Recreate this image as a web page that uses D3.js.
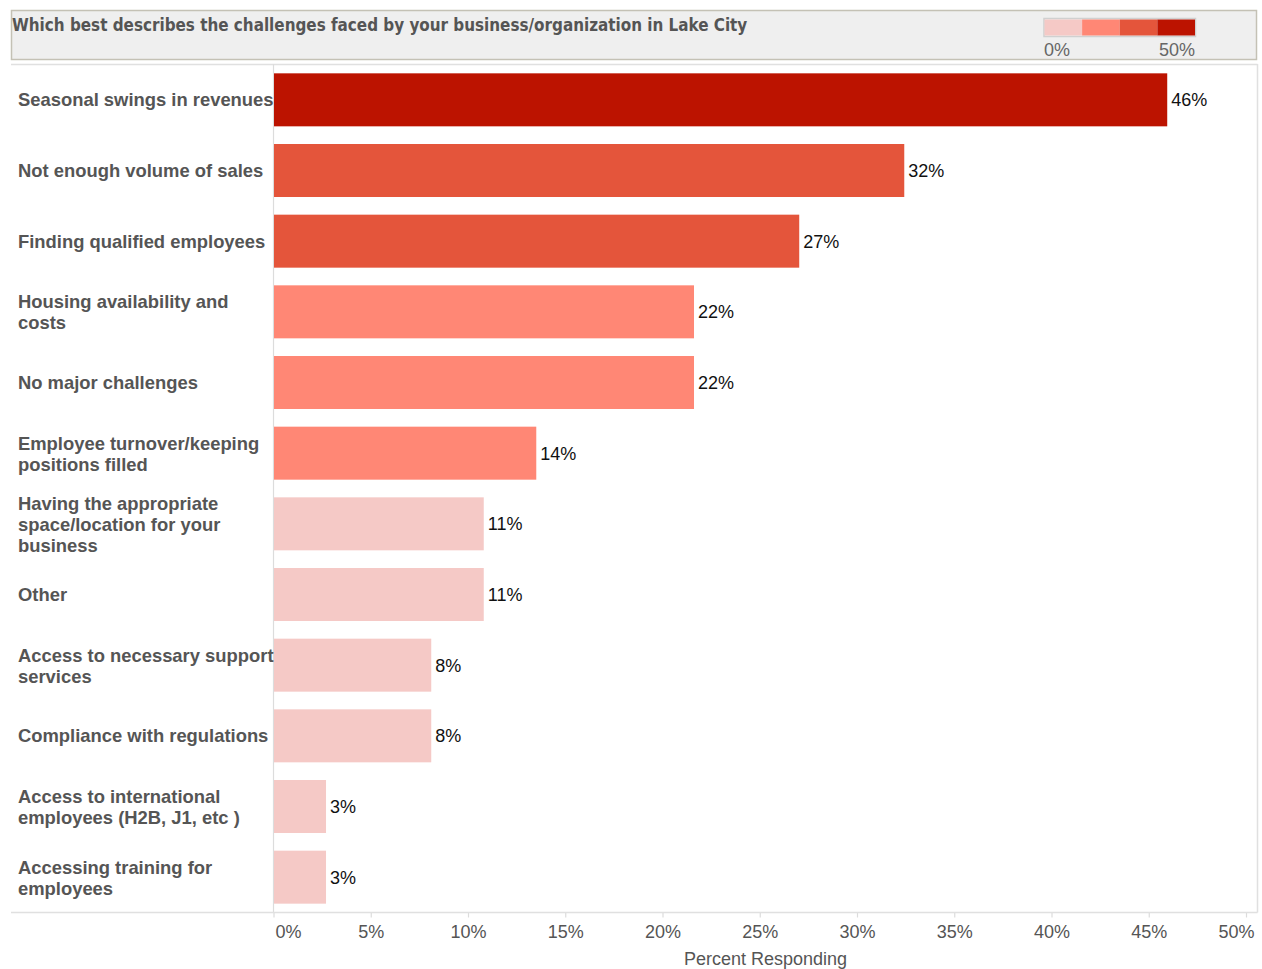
<!DOCTYPE html>
<html>
<head>
<meta charset="utf-8">
<script src="https://cdn.jsdelivr.net/npm/d3@7"></script>
<style>
  html, body { margin: 0; padding: 0; background: #fff; }
  svg { display: block; }
</style>
</head>
<body>
<svg id="chart" width="1262" height="969"></svg>
<script>
// ---- Data ----
const titleText = "Which best describes the challenges faced by your business/organization in Lake City";
const categories = [
  ["Seasonal swings in revenues"],
  ["Not enough volume of sales"],
  ["Finding qualified employees"],
  ["Housing availability and", "costs"],
  ["No major challenges"],
  ["Employee turnover/keeping", "positions filled"],
  ["Having the appropriate", "space/location for your", "business"],
  ["Other"],
  ["Access to necessary support", "services"],
  ["Compliance with regulations"],
  ["Access to international", "employees (H2B, J1, etc )"],
  ["Accessing training for", "employees"]
];
const values = [0.4595, 0.3243, 0.2703, 0.2162, 0.2162, 0.1351, 0.1081, 0.1081, 0.0811, 0.0811, 0.0270, 0.0270];
const xTicks = [0, 0.05, 0.10, 0.15, 0.20, 0.25, 0.30, 0.35, 0.40, 0.45, 0.50];
const colorSteps = [0.125, 0.25, 0.375];
const colorRange = ["#F5C9C6", "#FF8775", "#E4553B", "#BC1300"];
const legendLabels = ["0%", "50%"];
const axisTitle = "Percent Responding";

const svg = d3.select("#chart");

const fontSans = "'Liberation Sans', Arial, sans-serif";

// ---- Title box ----
svg.append("rect")
  .attr("x", 11.5).attr("y", 10.5).attr("width", 1245).attr("height", 49)
  .attr("fill", "#efefef").attr("stroke", "#c4c1b5").attr("stroke-width", 1.5);

const title = svg.append("text")
  .attr("x", 12).attr("y", 31)
  .attr("font-family", "'DejaVu Sans Condensed', 'DejaVu Sans', sans-serif")
  .attr("font-weight", "bold")
  .attr("font-size", 16)
  .attr("fill", "#555")
  .text(titleText);
const tl = title.node().getComputedTextLength();
title.attr("font-size", 16 * 736 / tl);

// ---- Legend ----
const color = d3.scaleThreshold().domain(colorSteps).range(colorRange);
const legX = d3.scaleLinear().domain([0, 0.5]).range([1044.5, 1195]);
const legendSegs = [0].concat(colorSteps);
svg.append("rect")
  .attr("x", 1044).attr("y", 18.5).attr("width", 151.5).attr("height", 18)
  .attr("fill", "none").attr("stroke", "#d0d0d0").attr("stroke-width", 1.5);
svg.selectAll(".leg").data(legendSegs).enter().append("rect")
  .attr("x", d => legX(d))
  .attr("y", 19.5)
  .attr("width", (d, i) => legX(i < colorSteps.length ? colorSteps[i] : 0.5) - legX(d))
  .attr("height", 16)
  .attr("fill", d => color(d));
svg.append("text")
  .attr("x", 1044).attr("y", 56)
  .attr("font-family", fontSans).attr("font-size", 18).attr("fill", "#666")
  .text(legendLabels[0]);
svg.append("text")
  .attr("x", 1195).attr("y", 56).attr("text-anchor", "end")
  .attr("font-family", fontSans).attr("font-size", 18).attr("fill", "#666")
  .text(legendLabels[1]);

// ---- Scales ----
const x = d3.scaleLinear().domain([0, 0.5]).range([273.5, 1246]);
const y = d3.scaleBand().domain(d3.range(categories.length)).range([64.5, 912.5])
  .paddingInner(0.25).paddingOuter(0.125);

// ---- Frame lines ----
svg.append("line").attr("x1", 11).attr("x2", 1257.5).attr("y1", 64.5).attr("y2", 64.5)
  .attr("stroke", "#e0e0e0").attr("stroke-width", 1.5);
svg.append("line").attr("x1", 1257.5).attr("x2", 1257.5).attr("y1", 64).attr("y2", 912.5)
  .attr("stroke", "#e0e0e0").attr("stroke-width", 1.5);
svg.append("line").attr("x1", 273.5).attr("x2", 273.5).attr("y1", 64).attr("y2", 912.5)
  .attr("stroke", "#dcdcdc").attr("stroke-width", 1.2);

// ---- Bars ----
svg.selectAll(".bar").data(values).enter().append("rect")
  .attr("x", x(0) + 0.5)
  .attr("y", (d, i) => y(i))
  .attr("width", d => x(d) - x(0) - 0.5)
  .attr("height", y.bandwidth())
  .attr("fill", d => color(d));

// ---- Value labels ----
svg.selectAll(".val").data(values).enter().append("text")
  .attr("x", d => x(d) + 4)
  .attr("y", (d, i) => y(i) + y.bandwidth() / 2 + 6.5)
  .attr("font-family", fontSans).attr("font-size", 18).attr("fill", "#111")
  .text(d => Math.round(d * 100) + "%");

// ---- Category labels ----
const lineH = 21.3;
categories.forEach((lines, i) => {
  const cy = y(i) + y.bandwidth() / 2 + 6.5;
  const n = lines.length;
  const t = svg.append("text")
    .attr("font-family", fontSans).attr("font-weight", "bold")
    .attr("font-size", 18.4).attr("fill", "#555");
  lines.forEach((ln, j) => {
    t.append("tspan").attr("x", 18)
      .attr("y", cy + (j - (n - 1) / 2) * lineH + (n > 1 ? 0.5 : 0))
      .text(ln);
  });
});

// ---- X axis ----
const axisG = svg.append("g").attr("transform", "translate(0,912.5)");
const xAxis = d3.axisBottom(x).tickValues(xTicks).tickSize(5).tickSizeOuter(0)
  .tickFormat(d => Math.round(d * 100) + "%");
axisG.call(xAxis);
axisG.select(".domain").remove();
axisG.append("line").attr("x1", 11).attr("x2", 1257.5).attr("y1", 0).attr("y2", 0)
  .attr("stroke", "#e0e0e0").attr("stroke-width", 1.5);
axisG.selectAll(".tick line").attr("stroke", "#dcdcdc").attr("stroke-width", 1.2);
axisG.selectAll(".tick text")
  .attr("font-family", fontSans).attr("font-size", 18).attr("fill", "#555")
  .attr("y", 0).attr("dy", 0)
  .attr("transform", "translate(0,25.5)");
axisG.selectAll(".tick").filter(d => d === 0).select("text")
  .attr("text-anchor", "start").attr("x", 1.5);
axisG.selectAll(".tick").filter(d => d === 0.5).select("text")
  .attr("text-anchor", "end").attr("x", 8);

svg.append("text")
  .attr("x", 765.5).attr("y", 964.5).attr("text-anchor", "middle")
  .attr("font-family", fontSans).attr("font-size", 18).attr("fill", "#555")
  .text(axisTitle);
</script>
</body>
</html>
